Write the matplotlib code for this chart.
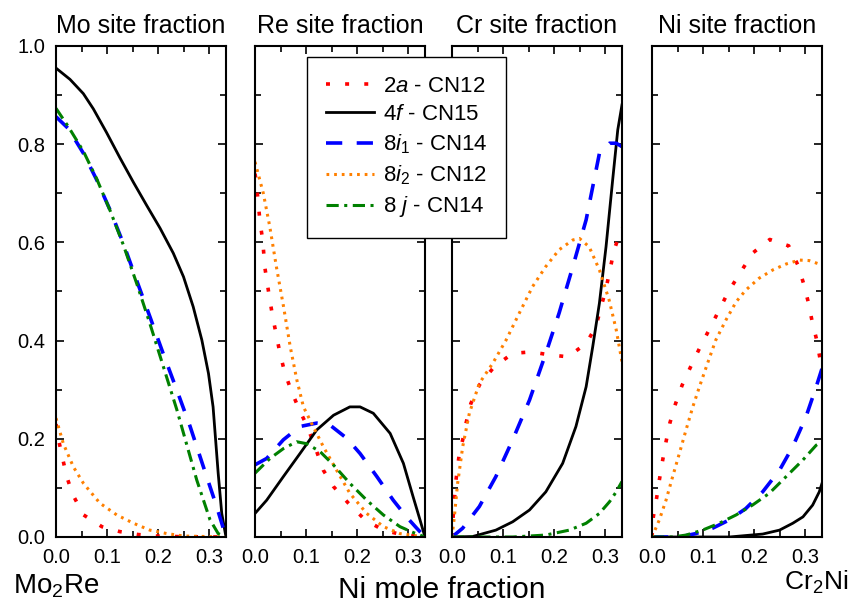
import matplotlib
matplotlib.use('Agg')
import matplotlib.pyplot as plt
from matplotlib.ticker import MultipleLocator

plt.rcParams['font.family'] = ['Liberation Sans', 'DejaVu Sans']
plt.rcParams['mathtext.fontset'] = 'custom'
plt.rcParams['mathtext.rm'] = 'Liberation Sans'
plt.rcParams['mathtext.it'] = 'Liberation Sans:italic'

# Mo site fraction
mo_2a_x = [0.0, 0.0046, 0.013, 0.021, 0.033, 0.054, 0.09, 0.125, 0.161, 0.197, 0.25, 0.3333]
mo_2a_y = [0.23, 0.20, 0.16, 0.123, 0.086, 0.045, 0.021, 0.011, 0.005, 0.002, 0.0005, 0.0]
mo_4f_x = [0.0, 0.0275, 0.0536, 0.0732, 0.099, 0.1255, 0.152, 0.178, 0.204, 0.23, 0.25, 0.269,
           0.286, 0.299, 0.308, 0.318, 0.325, 0.3333]
mo_4f_y = [0.955, 0.932, 0.903, 0.872, 0.824, 0.772, 0.722, 0.675, 0.629, 0.578, 0.53, 0.469,
           0.401, 0.333, 0.265, 0.13, 0.048, 0.0]
mo_8i1_x = [0.0, 0.024, 0.054, 0.08, 0.106, 0.132, 0.158, 0.184, 0.21, 0.237, 0.263, 0.289,
            0.315, 0.3333]
mo_8i1_y = [0.856, 0.832, 0.781, 0.727, 0.666, 0.598, 0.523, 0.449, 0.374, 0.299, 0.225, 0.143,
            0.062, 0.0]
mo_8i2_x = [0.0, 0.0144, 0.034, 0.054, 0.086, 0.119, 0.152, 0.184, 0.217, 0.25, 0.3333]
mo_8i2_y = [0.242, 0.19, 0.143, 0.109, 0.069, 0.045, 0.028, 0.014, 0.007, 0.002, 0.0]
mo_8j_x = [0.0, 0.024, 0.054, 0.08, 0.106, 0.132, 0.158, 0.184, 0.237, 0.276, 0.302, 0.318, 0.3333]
mo_8j_y = [0.873, 0.836, 0.785, 0.729, 0.665, 0.595, 0.517, 0.435, 0.259, 0.116, 0.035, 0.007, 0.0]

# Re site fraction
re_2a_x = [0.0, 0.0033, 0.0046, 0.0098, 0.015, 0.0196, 0.028, 0.0346, 0.049, 0.0588, 0.0719,
           0.0869, 0.1026, 0.1176, 0.134, 0.1536, 0.183, 0.2157, 0.2516, 0.2908, 0.3333]
re_2a_y = [0.74, 0.72, 0.70, 0.642, 0.605, 0.547, 0.49, 0.449, 0.374, 0.333, 0.296,
           0.259, 0.225, 0.184, 0.136, 0.103, 0.069, 0.035, 0.014, 0.004, 0.0]
re_4f_x = [0.0, 0.0229, 0.0556, 0.0882, 0.121, 0.154, 0.186, 0.206, 0.232, 0.265, 0.291, 0.31,
           0.3235, 0.3333]
re_4f_y = [0.048, 0.075, 0.123, 0.17, 0.218, 0.248, 0.265, 0.265, 0.252, 0.211, 0.15, 0.082,
           0.035, 0.0]
re_8i1_x = [0.0, 0.0229, 0.0556, 0.088, 0.121, 0.147, 0.18, 0.206, 0.239, 0.271, 0.297, 0.317,
            0.3333]
re_8i1_y = [0.147, 0.16, 0.198, 0.225, 0.232, 0.228, 0.201, 0.17, 0.123, 0.075, 0.041, 0.018, 0.0]
re_8i2_x = [0.0, 0.0163, 0.029, 0.042, 0.056, 0.069, 0.082, 0.095, 0.114, 0.134, 0.16, 0.186,
            0.219, 0.252, 0.284, 0.3333]
re_8i2_y = [0.764, 0.70, 0.632, 0.55, 0.469, 0.388, 0.32, 0.265, 0.225, 0.184, 0.136, 0.089,
            0.048, 0.021, 0.007, 0.0]
re_8j_x = [0.0, 0.0294, 0.0556, 0.0817, 0.1013, 0.1275, 0.1536, 0.1863, 0.219, 0.2516, 0.2843,
           0.3105, 0.3333]
re_8j_y = [0.13, 0.16, 0.18, 0.194, 0.19, 0.174, 0.147, 0.109, 0.075, 0.045, 0.021, 0.009, 0.0]

# Cr site fraction
cr_2a_x = [0.0, 0.0026, 0.0078, 0.0144, 0.021, 0.0275, 0.037, 0.054, 0.083, 0.119, 0.155, 0.191,
           0.227, 0.263, 0.282, 0.302, 0.318, 0.3333]
cr_2a_y = [0.0, 0.048, 0.116, 0.17, 0.198, 0.232, 0.272, 0.31, 0.347, 0.374, 0.377, 0.371,
           0.367, 0.394, 0.428, 0.506, 0.585, 0.63]
cr_4f_x = [0.0, 0.0405, 0.086, 0.119, 0.152, 0.184, 0.217, 0.243, 0.263, 0.276, 0.289, 0.302,
           0.315, 0.325, 0.3333]
cr_4f_y = [0.0, 0.001, 0.014, 0.031, 0.055, 0.092, 0.15, 0.225, 0.306, 0.388, 0.476, 0.591,
           0.727, 0.829, 0.88]
cr_8i1_x = [0.0, 0.021, 0.0536, 0.086, 0.119, 0.152, 0.184, 0.21, 0.237, 0.263, 0.289, 0.309,
            0.322, 0.3333]
cr_8i1_y = [0.0, 0.018, 0.062, 0.123, 0.198, 0.279, 0.374, 0.456, 0.551, 0.646, 0.781, 0.802,
            0.802, 0.795]
cr_8i2_x = [0.0, 0.0046, 0.011, 0.021, 0.034, 0.0536, 0.08, 0.106, 0.132, 0.158, 0.184, 0.21,
            0.237, 0.25, 0.269, 0.289, 0.308, 0.322, 0.3333]
cr_8i2_y = [0.0, 0.041, 0.109, 0.184, 0.252, 0.313, 0.354, 0.401, 0.456, 0.51, 0.551, 0.585,
            0.605, 0.608, 0.591, 0.544, 0.483, 0.422, 0.357]
cr_8j_x = [0.0, 0.119, 0.184, 0.23, 0.263, 0.289, 0.309, 0.322, 0.3333]
cr_8j_y = [0.0, 0.0, 0.004, 0.014, 0.028, 0.048, 0.072, 0.092, 0.113]

# Ni site fraction
ni_2a_x = [0.0, 0.0026, 0.009, 0.0144, 0.021, 0.0275, 0.035, 0.046, 0.059, 0.075, 0.093, 0.112,
           0.131, 0.15, 0.173, 0.197, 0.231, 0.268, 0.286, 0.297, 0.307, 0.314, 0.323, 0.3333]
ni_2a_y = [0.0, 0.041, 0.079, 0.116, 0.157, 0.194, 0.232, 0.271, 0.309, 0.345, 0.384, 0.422,
           0.461, 0.5, 0.538, 0.578, 0.606, 0.593, 0.554, 0.517, 0.476, 0.439, 0.401, 0.34]
ni_4f_x = [0.0, 0.152, 0.184, 0.217, 0.25, 0.276, 0.296, 0.315, 0.328, 0.3333]
ni_4f_y = [0.0, 0.0, 0.003, 0.006, 0.014, 0.028, 0.041, 0.065, 0.092, 0.109]
ni_8i1_x = [0.0, 0.054, 0.086, 0.119, 0.152, 0.184, 0.217, 0.25, 0.276, 0.302, 0.322, 0.3333]
ni_8i1_y = [0.0, 0.0, 0.007, 0.018, 0.035, 0.058, 0.092, 0.136, 0.184, 0.245, 0.306, 0.343]
ni_8i2_x = [0.0, 0.0046, 0.0144, 0.0275, 0.0405, 0.0536, 0.0667, 0.08, 0.093, 0.109, 0.125,
            0.145, 0.165, 0.184, 0.21, 0.237, 0.263, 0.289, 0.308, 0.3333]
ni_8i2_y = [0.0, 0.011, 0.035, 0.075, 0.123, 0.17, 0.218, 0.265, 0.306, 0.354, 0.401, 0.442,
            0.479, 0.503, 0.527, 0.544, 0.556, 0.564, 0.563, 0.554]
ni_8j_x = [0.0, 0.041, 0.067, 0.099, 0.132, 0.165, 0.197, 0.23, 0.263, 0.296, 0.322, 0.3333]
ni_8j_y = [0.0, 0.0, 0.004, 0.014, 0.028, 0.045, 0.065, 0.089, 0.123, 0.157, 0.187, 0.194]

titles = ['Mo site fraction', 'Re site fraction', 'Cr site fraction', 'Ni site fraction']
site_labels = [r'2$\mathit{a}$ - CN12', r'4$\mathit{f}$ - CN15', r'8$\mathit{i}_1$ - CN14',
               r'8$\mathit{i}_2$ - CN12', r'8 $\mathit{j}$ - CN14']

panels = [
    [(mo_2a_x, mo_2a_y), (mo_4f_x, mo_4f_y), (mo_8i1_x, mo_8i1_y), (mo_8i2_x, mo_8i2_y), (mo_8j_x, mo_8j_y)],
    [(re_2a_x, re_2a_y), (re_4f_x, re_4f_y), (re_8i1_x, re_8i1_y), (re_8i2_x, re_8i2_y), (re_8j_x, re_8j_y)],
    [(cr_2a_x, cr_2a_y), (cr_4f_x, cr_4f_y), (cr_8i1_x, cr_8i1_y), (cr_8i2_x, cr_8i2_y), (cr_8j_x, cr_8j_y)],
    [(ni_2a_x, ni_2a_y), (ni_4f_x, ni_4f_y), (ni_8i1_x, ni_8i1_y), (ni_8i2_x, ni_8i2_y), (ni_8j_x, ni_8j_y)],
]

# line style of each site, same order as site_labels
styles = [
    dict(color='#ff0000', lw=2.6, linestyle=(0, (1.1, 4.2))),
    dict(color='black', lw=2.0, linestyle='-'),
    dict(color='#0000ff', lw=2.6, linestyle=(0, (4.5, 4.0))),
    dict(color='#ff8000', lw=2.2, linestyle=(0, (0.9, 1.6))),
    dict(color='#008000', lw=2.2, linestyle=(0, (4.0, 1.8, 1.0, 1.8))),
]

W, H = 857, 604
fig = plt.figure(figsize=(W / 100, H / 100), dpi=100)

lefts = [56, 255, 452, 652]
ax_w, ax_top, ax_bot = 170, 46, 537
axes = []
for i, lx in enumerate(lefts):
    ax = fig.add_axes([lx / W, 1 - ax_bot / H, ax_w / W, (ax_bot - ax_top) / H])
    for (xs, ys), st in zip(panels[i], styles):
        ax.plot(xs, ys, **st)
    ax.set_xlim(0, 1 / 3)
    ax.set_ylim(0, 1.0)
    ax.xaxis.set_major_locator(MultipleLocator(0.1))
    ax.xaxis.set_minor_locator(MultipleLocator(0.05))
    ax.yaxis.set_major_locator(MultipleLocator(0.2))
    ax.yaxis.set_minor_locator(MultipleLocator(0.1))
    ax.tick_params(which='both', direction='in', top=True, right=True, width=1.2)
    ax.tick_params(which='major', length=6, labelsize=14.5, pad=8)
    ax.tick_params(which='minor', length=4)
    ax.xaxis.set_major_formatter(plt.FuncFormatter(lambda v, p: '%.1f' % v))
    ax.yaxis.set_major_formatter(plt.FuncFormatter(lambda v, p: '%.1f' % v))
    if i > 0:
        ax.tick_params(labelleft=False)
    for sp in ax.spines.values():
        sp.set_linewidth(1.5)
    ax.set_title(titles[i], fontsize=18, pad=9.5)
    axes.append(ax)

handles = axes[1].get_lines()
leg = fig.legend(handles, site_labels, loc='upper left',
                 bbox_to_anchor=(307 / W, 1 - 57 / H), fontsize=16,
                 frameon=True, fancybox=False, edgecolor='black', framealpha=1,
                 handlelength=2.15, handletextpad=0.4, borderpad=0.85, labelspacing=0.33,
                 borderaxespad=0)
leg.get_frame().set_linewidth(1.0)

fig.text(13 / W, 1 - 593 / H, r'Mo$_2$Re', fontsize=20, ha='left', va='baseline')
fig.text(442 / W, 1 - 598 / H, 'Ni mole fraction', fontsize=21.5, ha='center', va='baseline')
fig.text(848 / W, 1 - 590 / H, r'Cr$_2$Ni', fontsize=19, ha='right', va='baseline')

fig.savefig('out.png', dpi=100)
